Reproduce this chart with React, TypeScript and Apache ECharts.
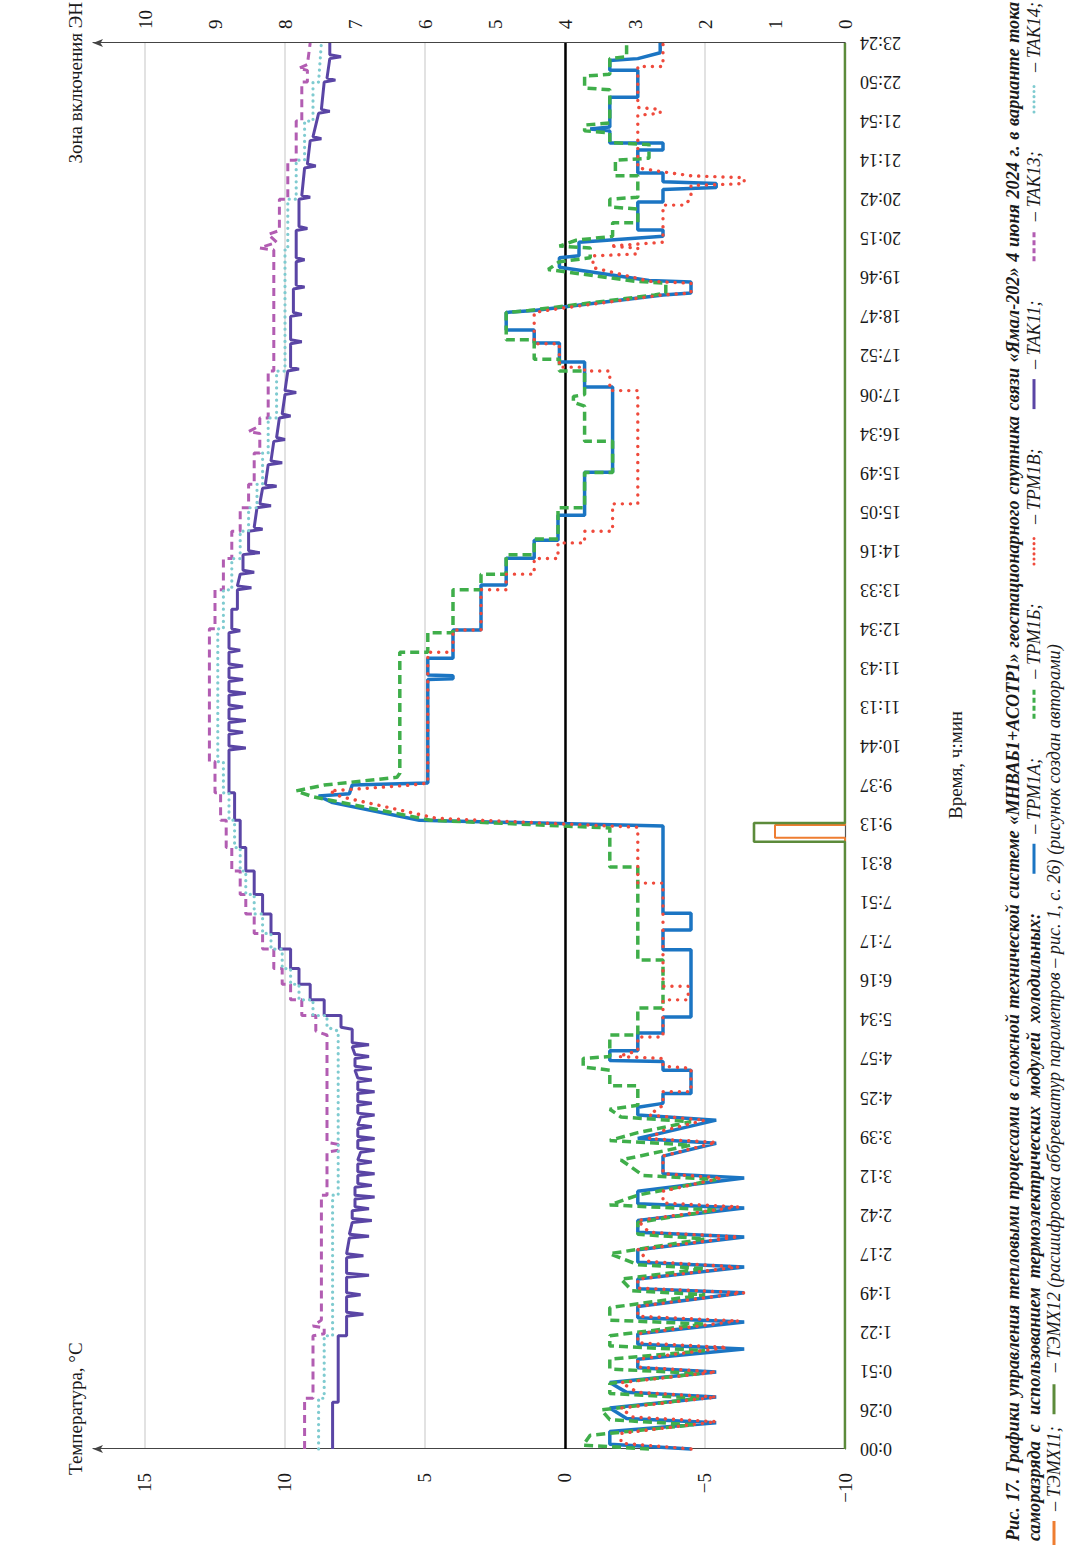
import React, { useEffect, useRef } from "react";
import * as echarts from "echarts";

type Pt = [number, number];

// подписи оси времени, ч:мин (одна подпись на деление)
const timeLabels = [
  "0:00", "0:26", "0:51", "1:22", "1:49", "2:17", "2:42", "3:12", "3:39", "4:25",
  "4:57", "5:34", "6:16", "7:17", "7:51", "8:31", "9:13", "9:37", "10:44", "11:13",
  "11:43", "12:34", "13:33", "14:16", "15:05", "15:49", "16:34", "17:06", "17:52", "18:47",
  "19:46", "20:15", "20:42", "21:14", "21:54", "22:50", "23:24",
];

// [положение по оси времени (в делениях), температура °C]
const trm1a: Pt[] = [
  [0, -4.5], [0.12, -1.6], [0.45, -1.6], [0.67, -5.4], [0.78, -2.2], [1.05, -1.6], [1.33, -5.4], [1.45, -2.2],
  [1.7, -1.6], [1.97, -5.4], [2.08, -2.6], [2.3, -2.6], [2.56, -6.4], [2.68, -2.6], [2.95, -2.6], [3.25, -6.4],
  [3.36, -2.6], [3.65, -2.6], [4.0, -6.4], [4.1, -2.6], [4.35, -2.6], [4.66, -6.4], [4.78, -2.6], [5.1, -2.6],
  [5.43, -6.4], [5.55, -2.6], [5.85, -2.6], [6.17, -6.4], [6.28, -2.6], [6.6, -2.6], [6.94, -6.4], [7.05, -3.5],
  [7.5, -3.5], [7.83, -5.4], [7.95, -2.6], [8.1, -3.5], [8.42, -5.4], [8.55, -2.6], [8.75, -2.6], [8.85, -3.5],
  [9.1, -3.5], [9.1, -4.5], [9.7, -4.5], [9.7, -3.5], [9.92, -3.5], [9.95, -1.6], [10.2, -1.6], [10.2, -2.6],
  [10.65, -2.6], [10.65, -3.5], [11.06, -3.5], [11.06, -4.5], [12.78, -4.5], [12.78, -3.5], [13.29, -3.5],
  [13.29, -4.5], [13.72, -4.5], [13.72, -3.5], [15.95, -3.5], [16.1, 5.2], [16.55, 8.3], [16.72, 8.8],
  [16.78, 7.7], [17.0, 7.6], [17.05, 4.9], [19.7, 4.9], [19.72, 4.0], [19.8, 4.0], [19.82, 4.9], [20.25, 4.9],
  [20.25, 4.0], [20.97, 4.0], [20.97, 3.0], [22.12, 3.0], [22.12, 2.1], [22.81, 2.1], [22.81, 1.1], [23.27, 1.1],
  [23.27, 0.25], [23.91, 0.25], [23.91, -0.7], [25.01, -0.7], [25.01, -1.7], [27.19, -1.7], [27.19, -0.7],
  [27.83, -0.7], [27.83, 0.2], [28.32, 0.2], [28.32, 1.1], [28.65, 1.1], [28.65, 2.1], [29.1, 2.1], [29.15, 1.1],
  [29.55, -3.5], [29.6, -4.5], [29.88, -4.5], [29.92, -3.0], [30.26, 0.2], [30.5, 0.2], [30.55, -0.5],
  [30.9, -0.5], [31.05, -3.5], [31.21, -3.5], [31.21, -2.6], [31.93, -2.6], [31.93, -3.5], [32.25, -3.5],
  [32.3, -5.4], [32.4, -5.4], [32.45, -3.5], [32.67, -3.5], [32.67, -2.6], [33.26, -2.6], [33.26, -3.5],
  [33.44, -3.5], [33.44, -1.6], [33.75, -1.6], [33.8, -0.9], [33.85, -1.6], [34.61, -1.6], [34.61, -2.6],
  [35.3, -2.6], [35.3, -1.6], [35.55, -1.6], [35.6, -2.6], [35.75, -3.4], [36, -3.4],
];

const trm1b: Pt[] = [
  [0, -3.0], [0.1, -0.65], [0.35, -0.9], [0.62, -4.6], [0.75, -1.6], [1.0, -1.3], [1.3, -4.8], [1.42, -1.6],
  [1.68, -1.6], [1.93, -4.8], [2.05, -1.6], [2.3, -1.6], [2.52, -5.0], [2.64, -1.6], [2.9, -1.6], [3.2, -5.0],
  [3.3, -1.6], [3.62, -1.6], [3.95, -5.0], [4.05, -2.4], [4.35, -2.0], [4.62, -5.0], [4.72, -2.6], [5.0, -1.6],
  [5.38, -5.0], [5.5, -2.6], [5.8, -2.6], [6.12, -5.4], [6.25, -1.6], [6.5, -2.6], [6.9, -5.4], [7.0, -2.8],
  [7.4, -2.0], [7.78, -4.5], [7.9, -1.6], [8.1, -2.6], [8.38, -4.5], [8.5, -2.0], [8.7, -1.6], [8.8, -2.6],
  [9.3, -2.6], [9.3, -1.6], [9.7, -1.6], [9.78, -0.65], [10.0, -0.65], [10.05, -1.6], [10.6, -1.6],
  [10.6, -2.6], [11.29, -2.6], [11.29, -3.5], [12.52, -3.5], [12.52, -2.6], [14.9, -2.6], [14.9, -1.6],
  [15.9, -1.6], [16.1, 4.8], [16.7, 9.0], [16.85, 9.6], [17.0, 8.6], [17.2, 6.0], [17.3, 5.9], [20.4, 5.9],
  [20.4, 4.9], [20.9, 4.9], [20.9, 4.0], [22.0, 4.0], [22.0, 3.0], [22.4, 3.0], [22.4, 2.1], [22.9, 2.1],
  [22.9, 1.1], [23.3, 1.1], [23.3, 0.25], [24.1, 0.25], [24.1, -0.7], [25.0, -0.7], [25.0, -1.7], [25.8, -1.7],
  [25.8, -0.7], [26.7, -0.7], [26.8, -0.3], [26.95, -0.3], [27.0, -0.7], [27.6, -0.7], [27.6, 0.2], [27.9, 0.2],
  [27.9, 1.1], [28.4, 1.1], [28.4, 2.1], [29.1, 2.1], [29.15, 1.3], [29.55, -3.2], [29.6, -3.6], [29.85, -3.6],
  [29.9, -2.5], [30.2, 0.6], [30.4, 0.2], [30.5, -0.9], [30.75, -0.9], [30.8, 0.2], [30.95, -0.4], [31.05, -1.7],
  [31.4, -1.7], [31.4, -2.6], [31.75, -2.6], [31.8, -1.6], [32.0, -1.6], [32.05, -2.6], [32.6, -2.6],
  [32.6, -1.8], [33.0, -1.8], [33.05, -3.0], [33.4, -3.0], [33.45, -1.6], [33.7, -1.6], [33.75, -0.7],
  [33.9, -0.7], [33.95, -1.6], [34.8, -1.6], [34.85, -0.7], [35.15, -0.7], [35.2, -1.6], [35.6, -1.6],
  [35.65, -2.2], [36, -2.2],
];

const trm1v: Pt[] = [
  [0, -4.5], [0.15, -2.0], [0.4, -2.0], [0.7, -5.4], [0.82, -2.4], [1.05, -2.0], [1.33, -5.4], [1.45, -2.6],
  [1.7, -2.0], [1.97, -5.4], [2.1, -2.6], [2.3, -2.6], [2.6, -5.8], [2.72, -2.6], [2.95, -2.6], [3.28, -6.2],
  [3.4, -2.6], [3.65, -2.6], [4.0, -6.4], [4.12, -2.6], [4.35, -2.6], [4.66, -6.2], [4.8, -3.0], [5.1, -2.6],
  [5.43, -6.2], [5.55, -3.0], [5.85, -2.6], [6.2, -6.2], [6.3, -3.5], [6.6, -3.5], [6.94, -5.6], [7.05, -3.5],
  [7.5, -3.5], [7.85, -5.4], [7.95, -3.0], [8.15, -3.5], [8.42, -5.0], [8.55, -3.0], [8.8, -3.5], [9.15, -3.5],
  [9.15, -4.5], [9.75, -4.5], [9.8, -3.5], [10.0, -3.5], [10.05, -1.9], [10.2, -2.6], [10.55, -2.6],
  [10.55, -3.5], [11.5, -3.5], [11.5, -4.4], [11.85, -4.4], [11.85, -3.5], [14.49, -3.5], [14.49, -2.6],
  [15.92, -2.6], [16.15, 4.6], [16.7, 8.0], [16.85, 8.4], [17.0, 5.5], [17.05, 4.9], [20.4, 4.9], [20.4, 4.0],
  [20.97, 4.0], [20.97, 3.0], [22.0, 3.0], [22.0, 2.1], [22.4, 2.1], [22.4, 1.1], [22.8, 1.1], [22.8, 0.25],
  [23.2, 0.25], [23.2, -0.7], [23.5, -0.7], [23.5, -1.7], [24.2, -1.7], [24.2, -2.6], [27.1, -2.6],
  [27.1, -1.6], [27.6, -1.6], [27.6, -0.7], [27.7, -0.7], [27.7, 0.2], [28.3, 0.2], [28.3, 1.1], [29.1, 1.1],
  [29.2, 0.2], [29.55, -3.5], [29.6, -4.5], [29.85, -4.5], [29.9, -3.0], [30.25, -1.0], [30.55, -1.0],
  [30.6, -2.6], [30.75, -2.6], [30.8, -1.6], [30.9, -3.5], [31.85, -3.5], [31.85, -4.3], [32.05, -4.5],
  [32.35, -4.5], [32.4, -6.4], [32.55, -6.4], [32.6, -4.5], [32.7, -3.5], [32.8, -2.6], [34.15, -2.6],
  [34.2, -3.4], [34.3, -3.4], [34.35, -2.6], [35.4, -2.6], [35.4, -3.5], [36, -3.5],
];

const tak11: Pt[] = [
  [0, 8.3], [1.2, 8.3], [1.2, 8.1], [2.9, 8.1], [2.9, 7.8], [3.4, 7.8], [3.45, 7.2], [3.5, 7.8], [3.9, 7.8],
  [3.95, 7.3], [4.0, 7.8], [4.4, 7.8], [4.45, 7.0], [4.5, 7.8], [4.9, 7.8], [4.95, 7.2], [5.0, 7.8], [5.4, 7.7],
  [5.45, 7.0], [5.5, 7.7], [5.8, 7.6], [5.85, 6.9], [5.9, 7.6], [6.1, 7.6], [6.15, 7.0], [6.2, 7.5], [6.4, 7.5],
  [6.45, 6.8], [6.5, 7.5], [6.7, 7.5], [6.75, 6.9], [6.8, 7.4], [7.0, 7.4], [7.05, 6.8], [7.1, 7.4], [7.3, 7.4],
  [7.35, 6.9], [7.4, 7.4], [7.6, 7.3], [7.65, 6.8], [7.7, 7.4], [7.9, 7.4], [7.95, 6.8], [8.0, 7.4], [8.2, 7.4],
  [8.25, 6.9], [8.3, 7.4], [8.5, 7.3], [8.55, 6.8], [8.6, 7.4], [8.8, 7.4], [8.85, 6.9], [8.9, 7.4], [9.1, 7.4],
  [9.15, 6.8], [9.2, 7.4], [9.4, 7.4], [9.45, 6.9], [9.5, 7.4], [9.7, 7.5], [9.75, 6.9], [9.8, 7.5], [10.0, 7.5],
  [10.05, 7.0], [10.1, 7.5], [10.3, 7.6], [10.35, 7.0], [10.4, 7.6], [10.75, 7.6], [10.8, 8.0], [11.1, 8.0],
  [11.1, 8.6], [11.5, 8.6], [11.5, 9.1], [11.9, 9.1], [11.9, 9.5], [12.3, 9.5], [12.3, 9.8], [12.8, 9.8],
  [12.8, 10.2], [13.2, 10.2], [13.2, 10.5], [13.7, 10.5], [13.7, 10.8], [14.2, 10.8], [14.2, 11.1], [14.8, 11.1],
  [14.8, 11.4], [15.4, 11.4], [15.4, 11.6], [16.1, 11.6], [16.1, 11.8], [16.8, 11.8], [16.8, 12.0], [17.9, 12.0],
  [17.95, 11.4], [18.0, 12.0], [18.3, 12.0], [18.35, 11.5], [18.4, 12.0], [18.6, 12.0], [18.65, 11.4],
  [18.7, 12.0], [18.95, 12.0], [19.0, 11.5], [19.05, 12.0], [19.3, 12.0], [19.35, 11.4], [19.4, 12.0],
  [19.65, 12.0], [19.7, 11.5], [19.75, 12.0], [20.0, 12.0], [20.05, 11.5], [20.1, 12.0], [20.4, 12.0],
  [20.45, 11.6], [20.5, 12.0], [20.9, 12.0], [20.95, 11.6], [21.0, 11.9], [21.5, 11.9], [21.5, 11.7],
  [22.0, 11.7], [22.05, 11.2], [22.1, 11.7], [22.4, 11.6], [22.45, 11.1], [22.5, 11.5], [22.9, 11.5],
  [22.95, 10.9], [23.0, 11.3], [23.5, 11.3], [23.55, 10.8], [23.6, 11.1], [24.1, 11.0], [24.15, 10.5],
  [24.2, 10.9], [24.6, 10.8], [24.65, 10.3], [24.7, 10.7], [25.2, 10.6], [25.25, 10.1], [25.3, 10.5],
  [25.8, 10.4], [25.85, 10.0], [25.9, 10.3], [26.4, 10.2], [26.45, 9.8], [26.5, 10.1], [27.0, 10.0],
  [27.05, 9.6], [27.1, 10.0], [27.6, 9.9], [27.65, 9.5], [27.7, 9.8], [28.3, 9.8], [28.35, 9.4], [28.4, 9.8],
  [29.0, 9.8], [29.05, 9.4], [29.1, 9.7], [29.7, 9.7], [29.75, 9.3], [29.8, 9.6], [30.4, 9.6], [30.45, 9.3],
  [30.5, 9.6], [31.2, 9.6], [31.25, 9.2], [31.3, 9.5], [32.0, 9.5], [32.05, 9.1], [32.1, 9.4], [32.8, 9.3],
  [32.85, 8.9], [32.9, 9.2], [33.5, 9.1], [33.55, 8.7], [33.6, 9.0], [34.2, 8.8], [34.25, 8.4], [34.3, 8.7],
  [35.0, 8.6], [35.05, 8.2], [35.1, 8.5], [35.6, 8.4], [35.65, 8.0], [35.7, 8.4], [36, 8.4],
];

const tak13: Pt[] = [
  [0, 9.3], [1.3, 9.3], [1.3, 9.0], [2.9, 9.0], [2.95, 8.6], [3.1, 8.6], [3.15, 9.0], [3.3, 8.7], [6.5, 8.7],
  [6.5, 8.5], [7.6, 8.5], [7.65, 8.1], [7.8, 8.1], [7.85, 8.5], [10.6, 8.5], [10.7, 8.9], [11.1, 8.9],
  [11.1, 9.4], [11.5, 9.4], [11.5, 9.8], [11.9, 9.8], [11.9, 10.1], [12.3, 10.1], [12.3, 10.4], [12.8, 10.4],
  [12.8, 10.8], [13.2, 10.8], [13.2, 11.1], [13.7, 11.1], [13.7, 11.4], [14.2, 11.4], [14.2, 11.6], [14.8, 11.6],
  [14.8, 11.9], [15.4, 11.9], [15.4, 12.1], [16.1, 12.1], [16.1, 12.3], [16.8, 12.3], [16.8, 12.5], [17.6, 12.5],
  [17.6, 12.7], [21.0, 12.7], [21.0, 12.5], [22.0, 12.5], [22.0, 12.2], [22.8, 12.2], [22.8, 11.9], [23.5, 11.9],
  [23.5, 11.6], [24.1, 11.6], [24.1, 11.3], [24.7, 11.3], [24.7, 11.1], [25.5, 11.1], [25.5, 10.9], [26.0, 10.9],
  [26.05, 11.3], [26.2, 10.9], [26.4, 10.9], [26.4, 10.6], [27.6, 10.6], [27.6, 10.4], [30.7, 10.4],
  [30.75, 10.9], [30.9, 10.3], [31.1, 10.6], [31.2, 10.2], [32.0, 10.2], [32.0, 9.9], [33.0, 9.9], [33.0, 9.6],
  [34.0, 9.6], [34.0, 9.4], [35.0, 9.4], [35.0, 9.2], [35.3, 9.2], [35.35, 9.5], [35.45, 9.2], [36, 9.1],
];

const tak14: Pt[] = [
  [0, 8.8], [1.3, 8.8], [1.3, 8.6], [2.9, 8.6], [2.9, 8.3], [6.5, 8.3], [6.5, 8.1], [10.7, 8.1], [10.8, 8.5],
  [11.1, 8.5], [11.1, 9.0], [11.5, 9.0], [11.5, 9.5], [11.9, 9.5], [11.9, 9.8], [12.3, 9.8], [12.3, 10.1],
  [12.8, 10.1], [12.8, 10.5], [13.2, 10.5], [13.2, 10.8], [13.7, 10.8], [13.7, 11.1], [14.2, 11.1], [14.2, 11.4],
  [14.8, 11.4], [14.8, 11.6], [15.4, 11.6], [15.4, 11.8], [16.1, 11.8], [16.1, 12.0], [16.8, 12.0], [16.8, 12.2],
  [17.6, 12.2], [17.6, 12.4], [21.0, 12.4], [21.0, 12.2], [22.0, 12.2], [22.0, 11.9], [22.8, 11.9], [22.8, 11.6],
  [23.5, 11.6], [23.5, 11.3], [24.1, 11.3], [24.1, 11.0], [24.7, 11.0], [24.7, 10.8], [25.5, 10.8], [25.5, 10.6],
  [26.4, 10.6], [26.4, 10.3], [27.6, 10.3], [27.6, 10.0], [30.7, 10.0], [30.7, 9.9], [32.0, 9.9], [32.0, 9.6],
  [33.0, 9.6], [33.0, 9.3], [34.0, 9.3], [34.0, 9.0], [35.0, 9.0], [35.0, 8.8], [36, 8.7],
];

// зона включения ЭН (правая ось)
const temx11: Pt[] = [[0, 0], [15.65, 0], [15.65, 1.0], [15.98, 1.0], [15.98, 0], [36, 0]];
const temx12: Pt[] = [[0, 0], [15.55, 0], [15.55, 1.3], [16.03, 1.3], [16.03, 0], [36, 0]];

const captionLine1 =
  "Рис. 17. Графики управления тепловыми процессами в сложной технической системе «МНВАБ1+АСОТР1» геостационарного спутника связи «Ямал-202» 4 июня 2024 г. в варианте тока";
const captionLine2 = "саморазряда с использованием термоэлектрических модулей холодильных:";
const legendLine2 = ["– ТРМ1А;", "– ТРМ1Б;", "– ТРМ1В;", "– ТАК11;", "– ТАК13;", "– ТАК14;"];
const captionTail = "– ТЭМХ12 (расшифровка аббревиатур параметров – рис. 1, с. 26) (рисунок создан авторами)";

const W = 1547;
const H = 1065;
const FONT = "'Liberation Serif', 'Times New Roman', serif";
const CAP_SIZE = 18;
const CAP_BOLD = `italic bold ${CAP_SIZE}px ${FONT}`;
const CAP_REG = `italic ${CAP_SIZE}px ${FONT}`;

const C = {
  trm1a: "#1b75c3",
  trm1b: "#3fae4a",
  trm1v: "#ef4a3c",
  tak11: "#5a45a5",
  tak13: "#b25db2",
  tak14: "#7fcbd0",
  temx11: "#ee7d31",
  temx12: "#5c8b3b",
};

let measureCtx: CanvasRenderingContext2D | null = null;
const measure = (text: string, font: string) => {
  if (!measureCtx) measureCtx = document.createElement("canvas").getContext("2d");
  measureCtx!.font = font;
  return measureCtx!.measureText(text).width;
};

const capText = (text: string, x: number, y: number, font: string, sx: number, align = "left") => ({
  type: "text",
  x,
  y,
  scaleX: sx,
  style: { text, font, fill: "#1a1a1a", verticalAlign: "middle", align },
});

// строка подписи, выровненная по ширине
const justify = (text: string, x0: number, x1: number, y: number, font: string, sx: number) => {
  const words = text.split(" ");
  const widths = words.map((w) => measure(w, font) * sx);
  const total = widths.reduce((a, b) => a + b, 0);
  const gap = (x1 - x0 - total) / (words.length - 1);
  let x = x0;
  return words.map((w, i) => {
    const el = capText(w, x, y, font, sx);
    x += widths[i] + gap;
    return el;
  });
};

const legendSym = (x0: number, x1: number, y: number, color: string, dash?: number[]) => ({
  type: "line",
  shape: { x1: x0, y1: y, x2: x1, y2: y },
  style: {
    stroke: color,
    lineWidth: 3,
    lineDash: dash,
    lineCap: dash && dash[0] < 1 ? "round" : "butt",
  },
});

const App: React.FC = () => {
  const chartRef = useRef<HTMLDivElement>(null);

  useEffect(() => {
    const chart = echarts.init(chartRef.current!, null, { renderer: "svg" });

    const line = (name: string, data: Pt[], color: string, width: number, type: any, yAxisIndex = 0) => ({
      type: "line",
      name,
      data,
      yAxisIndex,
      symbol: "none",
      showSymbol: false,
      lineStyle: {
        color,
        width,
        type,
        cap: Array.isArray(type) && type[0] < 1 ? "round" : "butt",
      },
    });

    const y1 = 1013;
    const y2 = 1034;
    const y3 = 1054;

    // подпись: шрифт слегка растянут, чтобы первая строка заняла всю ширину
    const sx = Math.min(1.25, Math.max(1, 1515 / measure(captionLine1, CAP_BOLD)));

    // вторая строка: текст + условные обозначения, распределённые до правого края
    const legendStyles: [string, number[] | undefined][] = [
      [C.trm1a, undefined],
      [C.trm1b, [5, 3]],
      [C.trm1v, [0.1, 5]],
      [C.tak11, undefined],
      [C.tak13, [5, 3]],
      [C.tak14, [0.1, 5]],
    ];
    const SYM = 30;
    const legW = legendLine2.map((t) => measure(t, CAP_REG) * sx);
    const legStart = 634;
    const legGap = (1545 - legStart - legW.reduce((a, b) => a + b, 0) - legendLine2.length * (SYM + 10)) / legendLine2.length;
    const legendEls: any[] = [];
    let lx = legStart;
    legendLine2.forEach((t, i) => {
      lx += legGap;
      legendEls.push(legendSym(lx, lx + SYM, y2, legendStyles[i][0], legendStyles[i][1]));
      lx += SYM + 10;
      legendEls.push(capText(t, lx, y2, CAP_REG, sx));
      lx += legW[i];
    });

    const t11 = "– ТЭМХ11;";
    const t11w = measure(t11, CAP_REG) * sx;
    const g3 = 36 + t11w + 12;

    const graphics: any[] = [
      { type: "text", x: 72, y: 75, style: { text: "Температура, °C", font: `19px ${FONT}`, fill: "#1a1a1a", verticalAlign: "middle" } },
      { type: "text", x: 1545, y: 75, style: { text: "Зона включения ЭН", font: `19px ${FONT}`, fill: "#1a1a1a", verticalAlign: "middle", align: "right" } },
      { type: "text", x: 782, y: 955, style: { text: "Время, ч:мин", font: `19px ${FONT}`, fill: "#1a1a1a", verticalAlign: "middle", align: "center" } },
      ...justify(captionLine1, 6, 1545, y1, CAP_BOLD, sx),
      ...justify(captionLine2, 6, legStart, y2, CAP_BOLD, sx),
      ...legendEls,
      legendSym(2, 26, y3, C.temx11),
      capText(t11, 36, y3, CAP_REG, sx),
      legendSym(g3, g3 + SYM, y3, C.temx12),
      capText(captionTail, g3 + SYM + 12, y3, CAP_REG, sx),
    ];

    const options = {
      animation: false,
      backgroundColor: "#ffffff",
      textStyle: { fontFamily: FONT, color: "#1a1a1a" },
      grid: { left: 98, right: 43, top: 93, bottom: 220 },
      xAxis: {
        type: "value",
        min: 0,
        max: 36,
        interval: 1,
        axisLine: { onZero: false, lineStyle: { color: "#555", width: 1.2 } },
        axisTick: { show: false },
        splitLine: { show: false },
        axisLabel: {
          rotate: 90,
          margin: 15,
          fontSize: 18,
          color: "#1a1a1a",
          formatter: (v: number) => timeLabels[Math.round(v)] ?? "",
        },
      },
      yAxis: [
        {
          type: "value",
          min: -10,
          max: 16.857,
          interval: 5,
          position: "left",
          axisLine: {
            show: true,
            onZero: false,
            symbol: ["none", "arrow"],
            symbolSize: [6, 10],
            lineStyle: { color: "#444", width: 1.2 },
          },
          axisTick: { show: false },
          axisLabel: {
            margin: 24,
            fontSize: 19,
            color: "#1a1a1a",
            formatter: (v: number) => (v % 5 === 0 ? String(v).replace("-", "−") : ""),
          },
          splitLine: {
            show: true,
            showMinLine: false,
            showMaxLine: false,
            lineStyle: { color: "#d9d9d9", width: 1.5 },
          },
        },
        {
          type: "value",
          min: 0,
          max: 10.743,
          interval: 1,
          position: "right",
          axisLine: {
            show: true,
            onZero: false,
            symbol: ["none", "arrow"],
            symbolSize: [6, 10],
            lineStyle: { color: "#444", width: 1.2 },
          },
          axisTick: { show: false },
          axisLabel: {
            margin: 14,
            fontSize: 19,
            color: "#1a1a1a",
            formatter: (v: number) => (Number.isInteger(v) ? String(v) : ""),
          },
          splitLine: { show: false },
        },
      ],
      series: [
        {
          ...line("ТАК11", tak11, C.tak11, 3, "solid"),
          markLine: {
            silent: true,
            z: 1,
            symbol: "none",
            label: { show: false },
            lineStyle: { color: "#000", width: 2.5, type: "solid" },
            data: [{ yAxis: 0 }],
          },
        },
        line("ТАК13", tak13, C.tak13, 3, [8, 5]),
        line("ТАК14", tak14, C.tak14, 3.2, [0.1, 6]),
        line("ТРМ1А", trm1a, C.trm1a, 3.5, "solid"),
        line("ТРМ1Б", trm1b, C.trm1b, 3.5, [9, 5]),
        line("ТРМ1В", trm1v, C.trm1v, 3.4, [0.1, 8]),
        line("ТЭМХ11", temx11, C.temx11, 2, "solid", 1),
        line("ТЭМХ12", temx12, C.temx12, 2.6, "solid", 1),
      ],
      graphic: graphics,
    };

    chart.setOption(options);

    return () => {
      chart.dispose();
    };
  }, []);

  return (
    <div
      style={{
        position: "fixed",
        left: 0,
        top: 0,
        width: H,
        height: W,
        overflow: "hidden",
        background: "#fff",
      }}
    >
      <div
        ref={chartRef}
        style={{
          position: "absolute",
          left: 0,
          top: 0,
          width: W,
          height: H,
          transformOrigin: "0 0",
          transform: `translateY(${W}px) rotate(-90deg)`,
        }}
      />
    </div>
  );
};

export default App;
